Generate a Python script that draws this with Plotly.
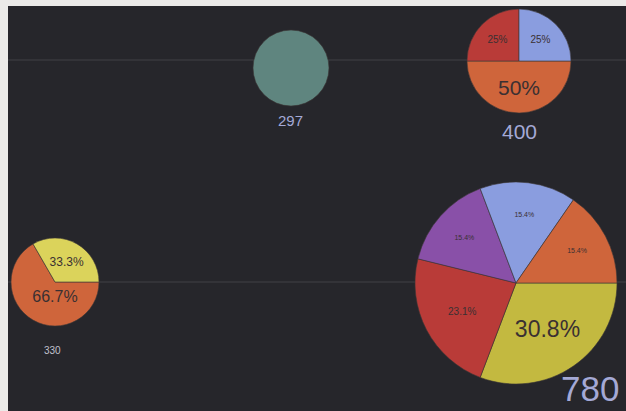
import plotly.graph_objects as go

# ---- data ----
totals = [297, 400, 330, 780]
pie_labels = [
    ["A"],
    ["Orange", "Red", "Blue"],
    ["Orange", "Yellow"],
    ["Olive", "Red", "Purple", "Blue", "Orange"],
]
pie_values = [
    [1],
    [2, 1, 1],
    [2, 1],
    [4, 3, 2, 2, 2],
]

# ---- styling / layout params ----
W, H = 626, 411
ML, MT = 8, 6
PW, PH = W - ML, H - MT
color_map = {
    "A": "#5f857f",
    "Blue": "#8a9ddf",
    "Red": "#b93b38",
    "Orange": "#cf653b",
    "Yellow": "#dbd35b",
    "Olive": "#c3b940",
    "Purple": "#8950a8",
}
# pie centers (px) and radii (px)
geom = [(291, 68, 38), (519, 61, 52), (55, 282, 44), (516, 283, 101)]
slice_font = [[1], [21, 10, 10], [16, 12], [23, 10, 7, 7, 7]]
label_pos = [(290, 121, 15, "#a4a9d6"), (519, 131, 21, "#a4a9d6"),
             (52, 350, 10, "#c0c0cc"), (590, 388, 35, "#a4a9d6")]

def px_to_paper_x(x):
    return (x - ML) / PW

def px_to_paper_y(y):
    return 1 - (y - MT) / PH

fig = go.Figure()
for i, (labs, vals) in enumerate(zip(pie_labels, pie_values)):
    cx, cy, r = geom[i]
    single = len(vals) == 1
    fig.add_trace(go.Pie(
        labels=labs,
        values=vals,
        sort=False,
        direction="clockwise",
        rotation=90,
        marker=dict(colors=[color_map[l] for l in labs],
                    line=dict(color="#3a3536", width=0.6)),
        textinfo="none" if single else "percent",
        textposition="inside",
        insidetextorientation="horizontal",
        textfont=dict(size=slice_font[i], color="#3a3032",
                      family="Liberation Sans, Arial, sans-serif"),
        domain=dict(x=[px_to_paper_x(cx - r), px_to_paper_x(cx + r)],
                    y=[px_to_paper_y(cy + r), px_to_paper_y(cy - r)]),
        showlegend=False,
        hoverinfo="label+percent",
    ))

annotations = []
for t, (x, y, s, c) in zip(totals, label_pos):
    annotations.append(dict(
        text=str(t), x=px_to_paper_x(x), y=px_to_paper_y(y),
        xref="paper", yref="paper", showarrow=False,
        xanchor="center", yanchor="middle",
        font=dict(size=s, color=c, family="Liberation Sans, Arial, sans-serif"),
    ))

shapes = [
    dict(type="rect", xref="paper", yref="paper", x0=0, x1=1, y0=0, y1=1,
         fillcolor="#26262b", line=dict(width=0), layer="below"),
    dict(type="line", xref="paper", yref="paper", x0=0, x1=1,
         y0=px_to_paper_y(60), y1=px_to_paper_y(60),
         line=dict(color="#414146", width=1), layer="below"),
    dict(type="line", xref="paper", yref="paper", x0=0, x1=1,
         y0=px_to_paper_y(282), y1=px_to_paper_y(282),
         line=dict(color="#414146", width=1), layer="below"),
]

fig.update_layout(
    width=W, height=H,
    margin=dict(l=ML, r=0, t=MT, b=0, pad=0),
    paper_bgcolor="#ebeae8",
    annotations=annotations,
    shapes=shapes,
    uniformtext=dict(mode=False),
)

fig.write_html("out.html")
